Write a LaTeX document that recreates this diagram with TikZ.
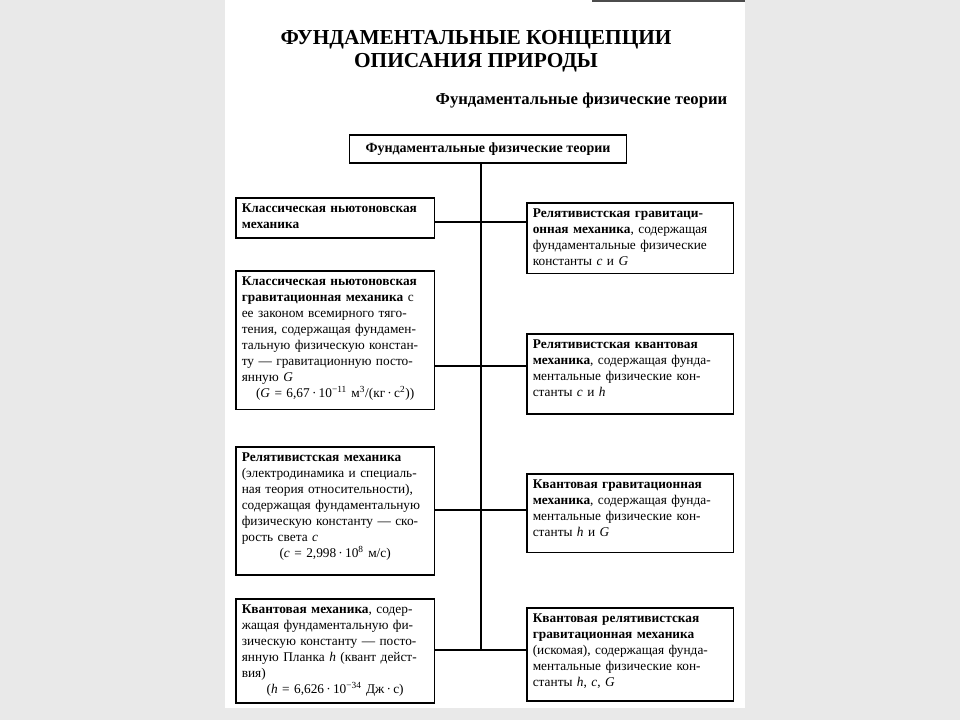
\documentclass[tikz,border=0pt]{standalone}
\usepackage{fontspec}
\setmainfont{Liberation Serif}
\usetikzlibrary{positioning}
\definecolor{pagegray}{RGB}{233,233,233}
% one line of a box: justified, last line, centred line
\newcommand\jl[1]{\hbox to\linewidth{#1}}
\newcommand\lastl[1]{\hbox to\linewidth{#1\hfil}}
\newcommand\midl[1]{\hbox to\linewidth{\hfil#1\hfil}}

\begin{document}
\begin{tikzpicture}[x=0.75pt, y=-0.75pt,
  font=\fontsize{10}{12}\selectfont,
  box/.style={draw, line width=1.2pt, anchor=north west, inner xsep=4.5pt, inner ysep=4.2pt, align=left},
  lbox/.style={box, text width=140pt},
  rbox/.style={box, text width=146pt},
  link/.style={line width=1.3pt}]
\fill[pagegray] (0,0) rectangle (960,720);
\fill[white] (225,0) rectangle (745,708);
\useasboundingbox (0,0) rectangle (960,720);
\draw[line width=1.2pt, black!70] (592,1) -- (745,1);

\node[font=\bfseries\fontsize{16}{17.5}\selectfont, align=center] (title) at (476,51) {ФУНДАМЕНТАЛЬНЫЕ КОНЦЕПЦИИ\\ОПИСАНИЯ ПРИРОДЫ};
\node[font=\bfseries\fontsize{12.5}{14}\selectfont, anchor=east] (subtitle) at (732,101) {Фундаментальные физические теории};

\node[box, anchor=center, font=\bfseries\fontsize{10.5}{12}\selectfont, minimum width=208pt, minimum height=21pt] (top) at (488,149) {Фундаментальные физические теории};

% left column
\node[lbox, text depth=15pt] (newton) at (235,197) {%
  \jl{\bfseries Классическая ньютоновская}
  \lastl{\bfseries механика}};
\node[lbox, text depth=89pt] (newtongrav) at (235,270) {%
  \jl{\bfseries Классическая ньютоновская}
  \jl{\textbf{гравитационная механика} с}
  \jl{ее законом всемирного тяго-}
  \jl{тения, содержащая фундамен-}
  \jl{тальную физическую констан-}
  \jl{ту — гравитационную посто-}
  \lastl{янную \textit{G}}
  \midl{(\textit{G} = 6,67\,·\,10\textsuperscript{−11} м\textsuperscript{3}/(кг\,·\,с\textsuperscript{2}))}};
\node[lbox, text depth=81pt] (rel) at (235,446) {%
  \jl{\bfseries Релятивистская механика}
  \jl{(электродинамика и специаль-}
  \jl{ная теория относительности),}
  \jl{содержащая фундаментальную}
  \jl{физическую константу — ско-}
  \lastl{рость света \textit{c}}
  \midl{(\textit{c} = 2,998\,·\,10\textsuperscript{8} м/с)}};
\node[lbox, text depth=63pt] (quant) at (235,598) {%
  \jl{\textbf{Квантовая механика}, содер-}
  \jl{жащая фундаментальную фи-}
  \jl{зическую константу — посто-}
  \jl{янную Планка \textit{h} (квант дейст-}
  \lastl{вия)}
  \midl{(\textit{h} = 6,626\,·\,10\textsuperscript{−34} Дж\,·\,с)}};

% right column
\node[rbox, text depth=38pt] (relgrav) at (526,202) {%
  \jl{\bfseries Релятивистская гравитаци-}
  \jl{\textbf{онная механика}, содержащая}
  \jl{фундаментальные физические}
  \lastl{константы \textit{c} и \textit{G}}};
\node[rbox, text depth=45pt] (relquant) at (526,333) {%
  \jl{\bfseries Релятивистская квантовая}
  \jl{\textbf{механика}, содержащая фунда-}
  \jl{ментальные физические кон-}
  \lastl{станты \textit{c} и \textit{h}}};
\node[rbox, text depth=44pt] (quantgrav) at (526,473) {%
  \jl{\bfseries Квантовая гравитационная}
  \jl{\textbf{механика}, содержащая фунда-}
  \jl{ментальные физические кон-}
  \lastl{станты \textit{h} и \textit{G}}};
\node[rbox, text depth=55pt] (quantrelgrav) at (526,607) {%
  \jl{\bfseries Квантовая релятивистская}
  \jl{\bfseries гравитационная механика}
  \jl{(искомая), содержащая фунда-}
  \jl{ментальные физические кон-}
  \lastl{станты \textit{h}, \textit{c}, \textit{G}}};

% trunk and branches
\coordinate (j1) at (481,222);
\coordinate (j2) at (481,366);
\coordinate (j3) at (481,510);
\coordinate (tb) at (481,650);
\draw[link] (top.south -| tb) -- (tb);
\draw[link] (newton.east |- j1) -- (relgrav.west |- j1);
\draw[link] (newtongrav.east |- j2) -- (relquant.west |- j2);
\draw[link] (rel.east |- j3) -- (quantgrav.west |- j3);
\draw[link] (quant.east |- tb) -- (quantrelgrav.west |- tb);
\end{tikzpicture}
\end{document}
